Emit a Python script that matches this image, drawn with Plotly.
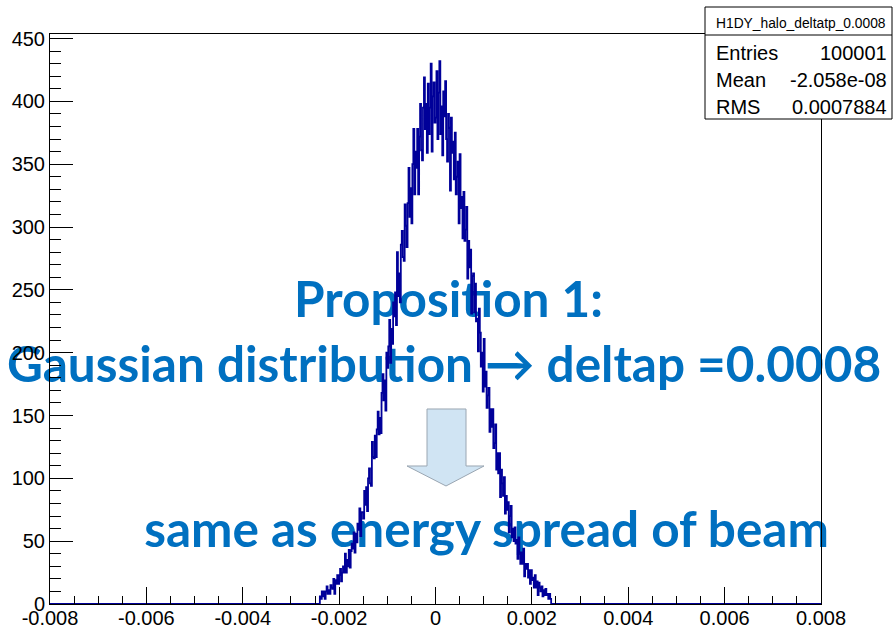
import plotly.graph_objects as go

# ---------------- histogram H1DY_halo_deltatp_0.0008 ----------------
bin_low = -0.0024        # lower edge of the first filled bin
bin_width = 0.00002      # bin width in deltap

counts_left = [
    6, 4, 10, 6, 10, 4, 10, 14, 8, 11,
    8, 15, 13, 12, 20, 8, 19, 16, 23, 16,
    23, 28, 18, 25, 30, 25, 40, 25, 35, 30,
    43, 29, 42, 48, 44, 57, 41, 56, 49, 64,
    59, 76, 54, 73, 73, 68, 90, 79, 93, 74,
    100, 108, 96, 94, 129, 117, 116, 134, 117, 139,
    153, 135, 148, 136, 168, 183, 162, 178, 154, 200,
    188, 205, 226, 192, 219, 207, 240, 229, 248, 222,
    280, 245, 263, 240, 286, 297, 276, 273, 318, 301,
    284, 319, 347, 308, 331, 303, 350, 378, 326, 360,
    347, 378, 326, 372, 398, 361, 353, 395, 419, 378,
    398, 359, 414, 374, 395, 430, 360, 404, 415, 383,
]
counts_right = [
    387, 424, 370, 407, 432, 374, 396, 357, 408, 388,
    416, 370, 352, 390, 379, 329, 387, 359, 368, 338,
    375, 326, 340, 352, 303, 358, 315, 324, 291, 328,
    289, 298, 316, 259, 289, 268, 282, 231, 261, 263,
    232, 255, 225, 227, 201, 235, 216, 189, 200, 169,
    211, 173, 185, 156, 166, 172, 137, 155, 141, 155,
    124, 128, 143, 107, 120, 104, 120, 85, 107, 96,
    86, 101, 72, 86, 75, 81, 57, 70, 78, 53,
    60, 50, 61, 48, 51, 36, 53, 41, 32, 41,
    32, 44, 22, 32, 28, 32, 21, 27, 16, 27,
    19, 21, 13, 23, 13, 18, 7, 17, 13, 10,
    14, 6, 11, 7, 12, 7, 8, 4, 8, 4,
]
counts = counts_left + counts_right

x_range = [-0.008, 0.008]
x_tick_values = [-0.008, -0.006, -0.004, -0.002, 0.0, 0.002, 0.004, 0.006, 0.008]
x_tick_labels = ["-0.008", "-0.006", "-0.004", "-0.002", "0",
                 "0.002", "0.004", "0.006", "0.008"]
y_major_step = 50
y_minor_step = 10

stats_title = "H1DY_halo_deltatp_0.0008"
stats_names = ["Entries", "Mean", "RMS"]
stats_values = ["100001", "-2.058e-08", "0.0007884"]

slide_lines = ["Proposition 1:",
               "Gaussian distribution \u2192 deltap =0.0008",
               "same as energy spread of beam"]
slide_x = [0.00027, 0.000176, 0.00106]
slide_y = [238.3, 186.2, 55.2]

# ---------------- page geometry ----------------
W, H = 894, 630
L, R, T, B = 50, 73, 34, 26
PW, PH = W - L - R, H - T - B


def px(x):
    return (x - L) / PW


def py(y):
    return (H - B - y) / PH


# step outline of the histogram, flat at zero outside the filled bins
edges = [bin_low + i * bin_width for i in range(len(counts) + 1)]
step_x = [x_range[0]] + edges[:-1] + [edges[-1], x_range[1]]
step_y = [0] + counts + [0, 0]
y_top = 1.05 * max(counts)

fig = go.Figure()

# slide text sits underneath the histogram outline
fig.add_trace(go.Scatter(
    x=slide_x, y=slide_y, text=slide_lines, mode="text",
    textposition="middle center", cliponaxis=False, hoverinfo="skip",
    textfont=dict(family="Lato", size=49.5, color="#0070C0", weight="bold"),
))

fig.add_trace(go.Scatter(
    x=step_x, y=step_y, mode="lines", line_shape="hv",
    line=dict(color="#000099", width=1.8), hoverinfo="skip",
))

tick_font = dict(family="Liberation Sans, Arial, sans-serif", size=20, color="black")

fig.update_xaxes(
    range=x_range, showline=True, linecolor="black", linewidth=1, mirror=True,
    showgrid=False, zeroline=False,
    tickmode="array", tickvals=x_tick_values, ticktext=x_tick_labels,
    ticks="inside", ticklen=17, tickcolor="black", tickwidth=1,
    minor=dict(ticks="inside", ticklen=8, dtick=0.0005, tick0=-0.008,
               tickcolor="black", tickwidth=1, showgrid=False),
    tickfont=tick_font, automargin=False, ticklabelstandoff=-4,
)
fig.update_yaxes(
    range=[0, y_top], showline=True, linecolor="black", linewidth=1, mirror=True,
    showgrid=False, zeroline=False,
    tick0=0, dtick=y_major_step,
    ticks="inside", ticklen=23, tickcolor="black", tickwidth=1,
    minor=dict(ticks="inside", ticklen=11, dtick=y_minor_step, tick0=0,
               tickcolor="black", tickwidth=1, showgrid=False),
    tickfont=tick_font, automargin=False,
)

# down arrow between the two proposition lines
arrow_pts = [(427, 409), (466, 409), (466, 466), (484, 466),
             (446, 486), (407, 466), (427, 466)]
path = "M " + " L ".join(f"{px(a):.5f},{py(b):.5f}" for a, b in arrow_pts) + " Z"
shapes = [dict(type="path", path=path, xref="paper", yref="paper",
               fillcolor="#D0E4F3", line=dict(color="#9AA6B2", width=1), layer="above")]

# statistics box in the top right corner
bx0, bx1, by0, by1, bdiv = 705, 892, 7, 119, 35
shapes.append(dict(type="rect", xref="paper", yref="paper",
                   x0=px(bx0), x1=px(bx1), y0=py(by1), y1=py(by0),
                   fillcolor="white", line=dict(color="black", width=1), layer="above"))
shapes.append(dict(type="line", xref="paper", yref="paper",
                   x0=px(bx0), x1=px(bx1), y0=py(bdiv), y1=py(bdiv),
                   line=dict(color="black", width=1), layer="above"))

stat_font = dict(family="Liberation Sans, Arial, sans-serif", size=20, color="black")
annotations = [dict(text=stats_title, xref="paper", yref="paper",
                    x=px(801), y=py(24), xanchor="center", yanchor="middle",
                    showarrow=False, borderpad=0,
                    font=dict(family="Liberation Sans, Arial, sans-serif", size=13.8, color="black"))]
for i, (name, val) in enumerate(zip(stats_names, stats_values)):
    yc = [53, 80, 107][i]
    annotations.append(dict(text=name, xref="paper", yref="paper", x=px(715), y=py(yc),
                            xanchor="left", yanchor="middle", showarrow=False,
                            borderpad=0, font=stat_font))
    annotations.append(dict(text=val, xref="paper", yref="paper", x=px(888), y=py(yc),
                            xanchor="right", yanchor="middle", showarrow=False,
                            borderpad=0, font=stat_font))

fig.update_layout(
    width=W, height=H, margin=dict(l=L, r=R, t=T, b=B),
    paper_bgcolor="white", plot_bgcolor="white",
    showlegend=False, hovermode=False,
    shapes=shapes, annotations=annotations,
)

fig.write_html("out.html")
